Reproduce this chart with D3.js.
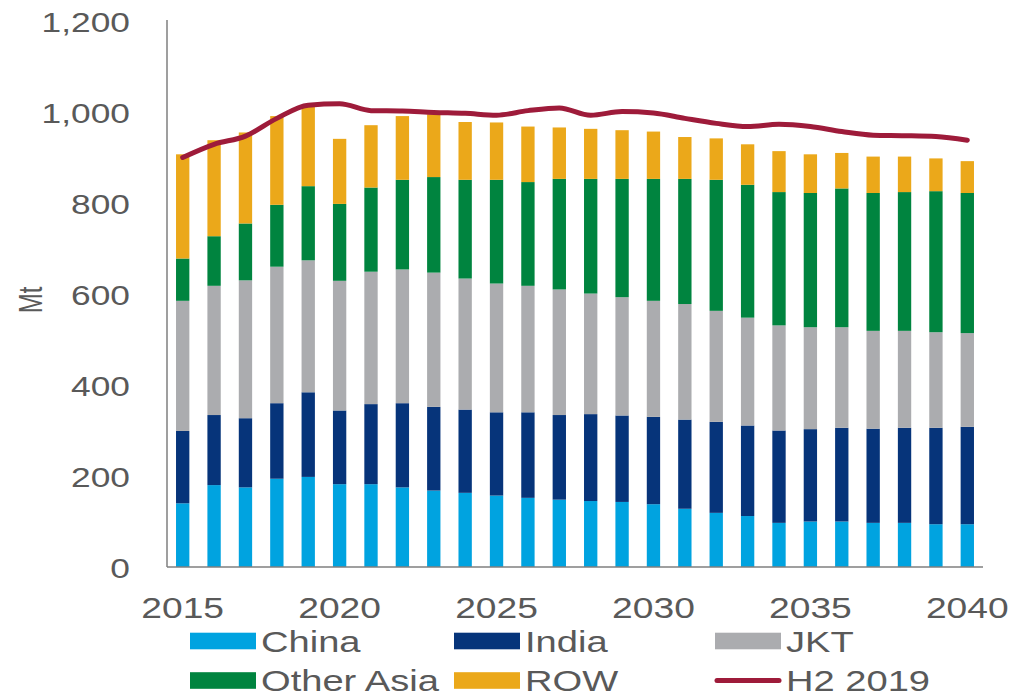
<!DOCTYPE html>
<html>
<head>
<meta charset="utf-8">
<script src="https://cdn.jsdelivr.net/npm/d3@7"></script>
<style>
  body { margin: 0; background: #fff; }
  svg { display: block; }
  text { font-family: "Liberation Sans", Arial, sans-serif; fill: #595959; }
</style>
</head>
<body>
<svg id="chart" width="1013" height="696"></svg>
<script>
const years = [2015,2016,2017,2018,2019,2020,2021,2022,2023,2024,2025,2026,2027,2028,2029,2030,2031,2032,2033,2034,2035,2036,2037,2038,2039,2040];
const china     = [140,180,175,194,198,182,182,175,168,163,157,152,148,145,143,138,128,119,112,97,100,100,97,97,94,94];
const india     = [159,154,152,166,186,162,176,185,184,183,183,188,186,191,190,192,196,200,199,203,203,206,207,209,212,214];
const jkt       = [286,284,303,300,290,285,291,294,295,288,283,278,276,265,260,255,254,244,237,231,224,221,215,213,210,206];
const otherAsia = [93,109,125,136,163,169,185,197,210,217,228,228,243,252,260,268,275,288,292,293,295,305,303,305,310,308];
const row       = [229,211,200,195,178,143,137,140,138,127,126,122,113,110,107,104,92,91,89,90,85,78,80,78,72,70];
const h2_2019   = [900,929,947,986,1015,1018,1003,1002,999,997,993,1003,1009,993,1001,998,986,975,968,973,968,957,949,948,946,938];
const seriesNames = ["China","India","JKT","Other Asia","ROW"];
const lineName = "H2 2019";
const yTicks = [0,200,400,600,800,1000,1200];
const xTicks = [2015,2020,2025,2030,2035,2040];

const colors = {"China":"#00A3E0","India":"#06347A","JKT":"#ABACAF","Other Asia":"#00843F","ROW":"#EBA81A"};
const lineColor = "#9E1B3A";
const SX = 1.24; // horizontal text stretch

const svg = d3.select("#chart");
const pLeft = 167, pRight = 983, pTop = 21, pBottom = 567;

const x = d3.scaleBand().domain(years).range([pLeft, pRight]).paddingInner(0.575).paddingOuter(0.2875);
const y = d3.scaleLinear().domain([0,1200]).range([pBottom, pTop]);

const table = years.map((yr,i) => ({year: yr, "China": china[i], "India": india[i], "JKT": jkt[i], "Other Asia": otherAsia[i], "ROW": row[i]}));
const stacked = d3.stack().keys(seriesNames)(table);

svg.append("g").selectAll("g").data(stacked).join("g")
  .attr("fill", d => colors[d.key])
  .selectAll("rect").data(d => d).join("rect")
  .attr("x", d => x(d.data.year))
  .attr("width", x.bandwidth())
  .attr("y", d => y(d[1]))
  .attr("height", d => y(d[0]) - y(d[1]));

const line = d3.line()
  .x((d,i) => x(years[i]) + x.bandwidth()/2)
  .y(d => y(d))
  .curve(d3.curveMonotoneX);
svg.append("path").datum(h2_2019)
  .attr("d", line).attr("fill","none")
  .attr("stroke", lineColor).attr("stroke-width", 5)
  .attr("stroke-linecap","round").attr("stroke-linejoin","round");

// Axes
const yAxis = svg.append("g").attr("transform", `translate(${pLeft},0)`)
  .call(d3.axisLeft(y).tickValues(yTicks).tickSize(0).tickFormat(d3.format(",")));
yAxis.select(".domain").attr("stroke","#7F7F7F").attr("stroke-width",1.5).attr("d", `M0,${pBottom}V${pTop-1}`);
yAxis.selectAll(".tick text")
  .attr("x", -37/SX).attr("dy","0.36em")
  .attr("transform", `scale(${SX},1)`)
  .style("font-size","28.5px").style("fill","#595959")
  .style("font-family", "'Liberation Sans', Arial, sans-serif");

const xAxis = svg.append("g").attr("transform", `translate(0,${pBottom})`)
  .call(d3.axisBottom(x).tickValues(xTicks).tickSize(0));
xAxis.select(".domain").attr("stroke","#7F7F7F").attr("stroke-width",1.5).attr("d", `M${pLeft},0H${pRight}`);
xAxis.selectAll(".tick text")
  .attr("y", 51).attr("dy", 0)
  .attr("transform", `scale(${SX},1)`)
  .style("font-size","30px").style("fill","#595959")
  .style("font-family", "'Liberation Sans', Arial, sans-serif");

// Y title
svg.append("text")
  .attr("transform", `translate(42,300) scale(1.4,1) rotate(-90)`)
  .attr("text-anchor","middle")
  .style("font-size","24px")
  .text("Mt");

// Legend
const legendItems = [
  {name:"China", type:"rect", x:190, yc:641},
  {name:"India", type:"rect", x:454, yc:641},
  {name:"JKT", type:"rect", x:715, yc:641},
  {name:"Other Asia", type:"rect", x:190, yc:680.5},
  {name:"ROW", type:"rect", x:454, yc:680.5},
  {name:lineName, type:"line", x:715, yc:680.5}
];
const lg = svg.append("g");
legendItems.forEach(it => {
  if (it.type === "rect") {
    lg.append("rect").attr("x", it.x).attr("y", it.yc - 8.3).attr("width", 66).attr("height", 16.6)
      .attr("fill", colors[it.name]);
  } else {
    lg.append("line").attr("x1", it.x + 2).attr("x2", it.x + 64).attr("y1", it.yc).attr("y2", it.yc)
      .attr("stroke", lineColor).attr("stroke-width", 5).attr("stroke-linecap","round");
  }
  lg.append("text")
    .attr("transform", `translate(${it.x + 71},${it.yc + 10.5}) scale(1.27,1)`)
    .style("font-size","30px")
    .text(it.name);
});
</script>
</body>
</html>
